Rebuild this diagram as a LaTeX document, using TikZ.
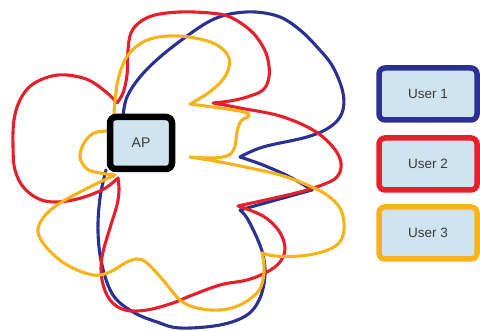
\documentclass[tikz,border=0pt]{standalone}
\usepackage{fontspec}
\setmainfont{Liberation Sans}
\definecolor{navy}{HTML}{2B3190}
\definecolor{ured}{HTML}{E51F2B}
\definecolor{uyel}{HTML}{F7B21C}
\definecolor{boxfill}{HTML}{CFE4EE}
\definecolor{txt}{HTML}{3A3A3A}
\begin{document}
\begin{tikzpicture}[x=1pt,y=-1pt,
  wave/.style={line width=3.1pt,line join=round,line cap=round},
  sm/.style={smooth,tension=0.6},
  apbox/.style={draw=black,line width=6.5pt,rounded corners=6pt,fill=boxfill,
    minimum width=62pt,minimum height=52pt,font=\fontsize{14}{16}\selectfont,text=txt},
  userbox/.style={line width=5.5pt,rounded corners=6pt,fill=boxfill,
    minimum width=98pt,minimum height=52pt,font=\fontsize{13.5}{15}\selectfont,text=txt}]
\useasboundingbox (0,0) rectangle (480,331);

% blue
\draw[wave,navy] plot[sm] coordinates {(106,170) (100,198) (98,232) (102,265) (113,295) (133,312) (157,322) (180,328) (220,325) (247,315) (260,298) (265,275) (263,255) (257,238) (247,218) (240,210)}
  -- (312,190)
  -- plot[sm] coordinates {(312,190) (290,177) (263,165) (240,157)}
  -- plot[sm] coordinates {(240,157) (263,147) (307,137) (330,127) (342,113) (343,93) (333,67) (318,48) (300,30) (280,17) (255,12) (230,14) (210,21) (187,36) (160,57) (140,77) (127,97) (123,116)};

% red
\draw[wave,ured] plot[sm] coordinates {(117,103) (123,93) (127,75) (128,50) (131,33) (140,22) (155,15) (180,12) (210,13) (230,17) (250,30) (262,45) (268,60) (269,77) (263,90) (247,97) (230,101) (213,103)}
  -- plot[sm] coordinates {(213,103) (240,108) (280,116) (313,130) (333,147) (341,163) (337,177) (322,185) (300,192) (270,199) (238,206)}
  -- plot[sm] coordinates {(238,206) (263,216) (279,231) (285,248) (280,262) (267,272) (247,280) (220,285) (190,296) (173,303) (147,310) (125,310) (110,300) (102,280) (102,257) (110,228) (117,205) (119,190) (118,178)}
  -- plot[sm] coordinates {(118,178) (102,190) (73,200) (45,201) (25,189) (15,170) (13,145) (14,120) (20,100) (33,84) (58,75) (86,79) (106,92) (117,103)};

% yellow
\draw[wave,uyel] plot[sm] coordinates {(108,131) (94,133) (84,143) (80,157) (87,169) (100,173) (115,175)}
  -- plot[sm] coordinates {(115,175) (100,182) (80,192) (57,205) (43,218) (38,232) (47,248) (67,265) (93,275) (110,272) (125,263) (137,259) (147,263) (163,280) (180,300) (197,308) (220,310) (240,305) (257,293) (263,280) (264,264) (262,253)}
  -- plot[sm] coordinates {(262,253) (275,256) (300,256) (322,252) (338,244) (344,230) (341,210) (327,195) (305,184) (280,175) (250,168) (220,162) (190,157)}
  -- plot[sm] coordinates {(190,157) (213,158) (229,155) (235,146) (237,132) (241,121) (249,116) (244,112) (220,108) (190,104)}
  -- plot[sm] coordinates {(190,104) (211,91) (226,75) (229,58) (217,45) (195,38) (168,36) (145,41) (128,55) (119,76) (115,100) (114,116)};

\node[apbox] (ap) at (141,143) {AP};
\node[userbox,draw=navy] (u1) at (428,94) {User 1};
\node[userbox,draw=ured] (u2) at (428,164) {User 2};
\node[userbox,draw=uyel] (u3) at (428,233) {User 3};
\end{tikzpicture}
\end{document}
